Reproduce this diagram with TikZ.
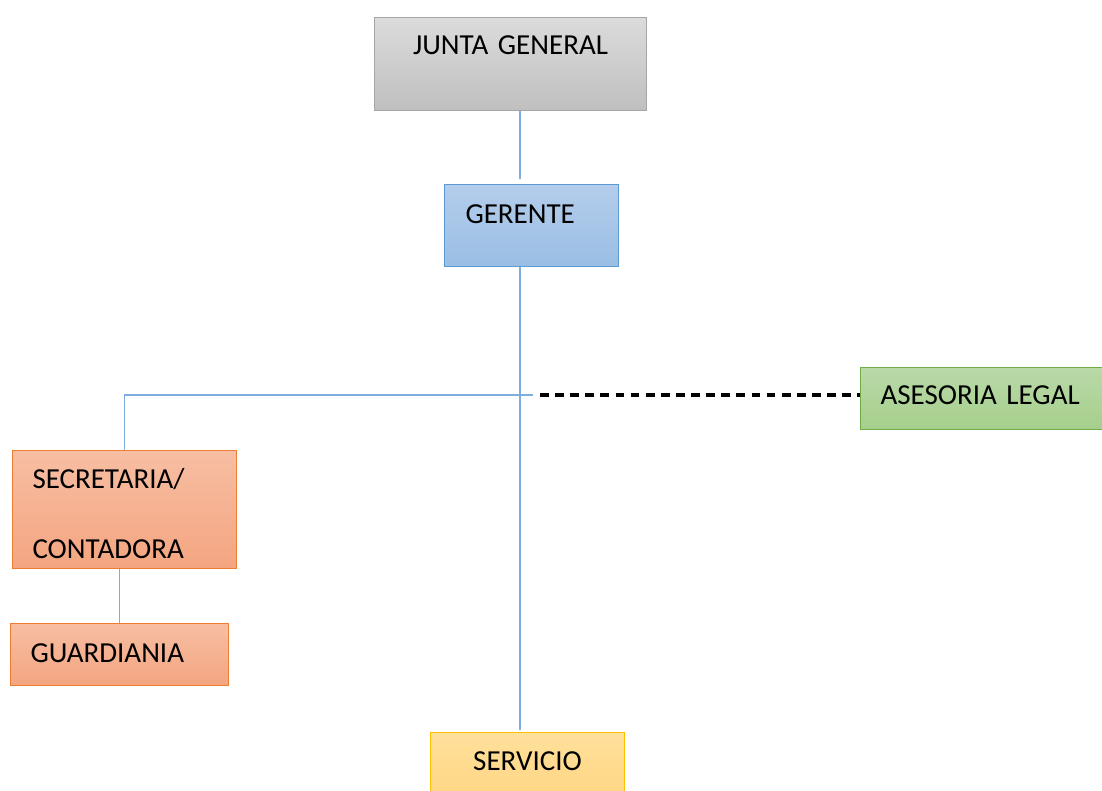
\documentclass[tikz,border=0pt]{standalone}
\usepackage{fontspec}
\setmainfont{Carlito}[WordSpace=0.8]
\usepackage{tikz}
\usetikzlibrary{calc}

\definecolor{linkblue}{HTML}{7EADDF}
\tikzset{
    orgbox/.style={draw, rectangle, anchor=north west, inner ysep=0pt,
        font=\fontsize{16.5pt}{19pt}\selectfont, line width=0.6pt},
    grisbox/.style={orgbox, draw=black!35, top color=black!14, bottom color=black!25},
    azulbox/.style={orgbox, draw={rgb,255:red,91;green,155;blue,213},
        top color={rgb,255:red,180;green,205;blue,235}, bottom color={rgb,255:red,154;green,190;blue,228}},
    verdebox/.style={orgbox, draw={rgb,255:red,112;green,173;blue,71},
        top color={rgb,255:red,185;green,217;blue,168}, bottom color={rgb,255:red,166;green,207;blue,140}},
    naranjabox/.style={orgbox, draw={rgb,255:red,237;green,125;blue,49},
        top color={rgb,255:red,247;green,190;blue,163}, bottom color={rgb,255:red,244;green,165;blue,128}},
    amarillobox/.style={orgbox, draw={rgb,255:red,255;green,192;blue,0},
        top color={rgb,255:red,255;green,224;blue,155}, bottom color={rgb,255:red,255;green,212;blue,128}},
    enlace/.style={draw=linkblue, line width=0.75pt},
}

\begin{document}
\begin{tikzpicture}[x=0.02cm,y=-0.02cm]
        \clip (0,0) rectangle (1102,791);
        \useasboundingbox (0,0) rectangle (1102,791);
        % cajas
        \node[grisbox, align=center, inner xsep=0pt, text width=5.44cm,
            text height=0.74cm, text depth=1.12cm] (junta) at (374,17) {JUNTA GENERAL};
        \node[azulbox, align=left, inner xsep=0.42cm, text width=2.64cm,
            text height=0.78cm, text depth=0.86cm] (gerente) at (444,184) {GERENTE};
        \node[verdebox, align=left, inner xsep=0.4cm, text width=4.2cm,
            text height=0.74cm, text depth=0.5cm] (asesoria) at (860,367) {ASESORIA LEGAL};
        \node[naranjabox, align=left, inner xsep=0.4cm, text width=3.68cm,
            text height=0.76cm, text depth=1.6cm,
            font=\fontsize{16.5pt}{1.4cm}\selectfont] (secretaria) at (12,450) {SECRETARIA/\\CONTADORA};
        \node[naranjabox, align=left, inner xsep=0.4cm, text width=3.56cm,
            text height=0.78cm, text depth=0.46cm] (guardiania) at (10,623) {GUARDIANIA};
        \node[amarillobox, align=center, inner xsep=0pt, text width=3.88cm,
            text height=0.76cm, text depth=0.8cm] (servicio) at (430,732) {SERVICIO};

        \coordinate (tronco) at (520,395);
        \coordinate (tee) at (533,395);
        \coordinate (punteado) at (540,395);

        % lineas
        \draw[enlace] (tronco |- junta.south) -- ($(tronco |- gerente.north)+(0,-5)$);
        \draw[enlace] (tronco |- gerente.south) -- ($(tronco |- servicio.north)+(0,-2)$);
        \draw[enlace] (secretaria.north) |- (tee);
        \draw[enlace] (guardiania.north) -- (guardiania.north |- secretaria.south);
        \draw[line width=2.4pt, dash pattern=on 5pt off 3.6pt] (punteado) -- (asesoria.west |- punteado);
    \end{tikzpicture}
\end{document}
